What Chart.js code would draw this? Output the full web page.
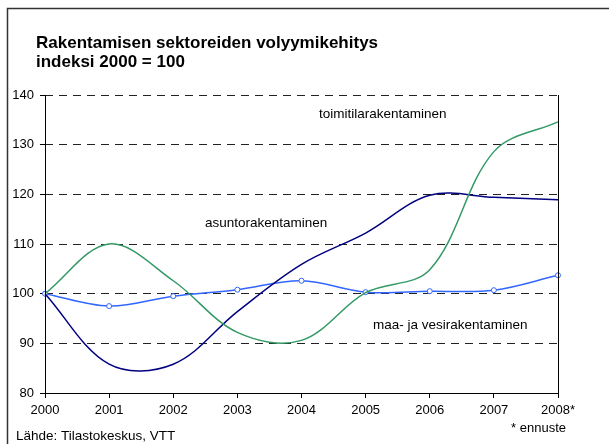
<!DOCTYPE html>
<html>
<head>
<meta charset="utf-8">
<script src="https://cdn.jsdelivr.net/npm/chart.js@4"></script>
<style>
  html, body { margin: 0; padding: 0; background: #fff; }
  canvas { display: block; }
</style>
</head>
<body>
<canvas id="volumeChart" width="609" height="444"></canvas>
<script>
// ================================
// RAKENTAMISEN VOLYYMIKEHITYS
// ================================

const years = ["2000", "2001", "2002", "2003", "2004", "2005", "2006", "2007", "2008*"];

// toimitilarakentaminen
const officeValues = [100, 110, 102.6, 92.2, 90.6, 100.2, 104.8, 128.6, 134.6];
// asuntorakentaminen
const housingValues = [100, 85.8, 85.8, 96.4, 105.9, 112.2, 119.8, 119.4, 118.9];
// maa- ja vesirakentaminen
const civilValues = [100, 97.5, 99.5, 100.8, 102.6, 100.3, 100.5, 100.7, 103.7];

const yTicks = [80, 90, 100, 110, 120, 130, 140];

const FONT = 'Arial, "Liberation Sans", sans-serif';

document.addEventListener("DOMContentLoaded", () => {

    /* ------------------------------
       FRAME, AXIS LINES, TITLE AND NOTES
    ------------------------------ */
    const decorations = {
        id: "decorations",
        beforeDraw(chart) {
            const c = chart.ctx;
            c.save();
            c.fillStyle = "#fff";
            c.fillRect(0, 0, chart.width, chart.height);
            c.restore();
        },
        afterDraw(chart) {
            const c = chart.ctx;
            const area = chart.chartArea;
            const left = Math.round(area.left) + 0.5;
            const right = Math.round(area.right) + 0.5;
            c.save();

            // outer frame (only top and left visible in the crop)
            c.strokeStyle = "#333";
            c.lineWidth = 1.5;
            c.beginPath();
            c.moveTo(7.5, chart.height);
            c.lineTo(7.5, 8.5);
            c.lineTo(chart.width, 8.5);
            c.stroke();

            // solid left axis and right edge of the plot
            c.strokeStyle = "#000";
            c.lineWidth = 1;
            c.beginPath();
            c.moveTo(left, area.top);
            c.lineTo(left, area.bottom);
            c.moveTo(right, area.top);
            c.lineTo(right, area.bottom);
            c.stroke();

            c.fillStyle = "#000";
            c.textBaseline = "alphabetic";
            c.textAlign = "left";

            c.font = "bold 17px " + FONT;
            c.fillText("Rakentamisen sektoreiden volyymikehitys", 36, 48);
            c.fillText("indeksi 2000 = 100", 36, 67);

            c.font = "13.5px " + FONT;
            c.fillText("toimitilarakentaminen", 319, 118);
            c.fillText("asuntorakentaminen", 205, 227);
            c.fillText("maa- ja vesirakentaminen", 373, 329);
            c.fillText("Lähde: Tilastokeskus, VTT", 16, 440);

            c.font = "13px " + FONT;
            c.textAlign = "right";
            c.fillText("* ennuste", 566, 432);

            c.restore();
        }
    };

    const ctx = document.getElementById("volumeChart");

    new Chart(ctx, {
        type: "line",
        data: {
            labels: years,
            datasets: [
                {
                    label: "toimitilarakentaminen",
                    data: officeValues,
                    borderColor: "#339966",
                    borderWidth: 1.5,
                    pointRadius: 0,
                    tension: 0.35
                },
                {
                    label: "asuntorakentaminen",
                    data: housingValues,
                    borderColor: "#000080",
                    borderWidth: 1.5,
                    pointRadius: 0,
                    tension: 0.35
                },
                {
                    label: "maa- ja vesirakentaminen",
                    data: civilValues,
                    borderColor: "#3366ff",
                    borderWidth: 1.5,
                    pointRadius: 2.5,
                    pointBackgroundColor: "#fff",
                    pointBorderColor: "#3366ff",
                    pointBorderWidth: 1,
                    tension: 0.35
                }
            ]
        },
        options: {
            responsive: false,
            animation: false,
            layout: { padding: { left: 0, top: 95, right: 51, bottom: 0 } },
            plugins: {
                legend: { display: false },
                tooltip: { enabled: false }
            },
            scales: {
                x: {
                    offset: false,
                    afterFit: scale => { scale.height = 51; },
                    grid: {
                        drawOnChartArea: false,
                        drawTicks: true,
                        tickLength: 5,
                        tickColor: "#000",
                        tickWidth: 1
                    },
                    border: { color: "#000", width: 1 },
                    ticks: {
                        color: "#000",
                        font: { family: FONT, size: 13 },
                        padding: 5,
                        maxRotation: 0,
                        autoSkip: false
                    }
                },
                y: {
                    min: 80,
                    max: 140,
                    afterFit: scale => { scale.width = 45; },
                    afterBuildTicks: scale => {
                        scale.ticks = yTicks.map(v => ({ value: v }));
                    },
                    grid: {
                        color: "#222",
                        lineWidth: 1,
                        tickLength: 5,
                        tickColor: "#000",
                        tickWidth: 1,
                        tickBorderDash: []
                    },
                    border: { display: false, dash: [8, 6] },
                    ticks: {
                        color: "#000",
                        font: { family: FONT, size: 13 },
                        padding: 6
                    }
                }
            }
        },
        plugins: [decorations]
    });

});
</script>
</body>
</html>
